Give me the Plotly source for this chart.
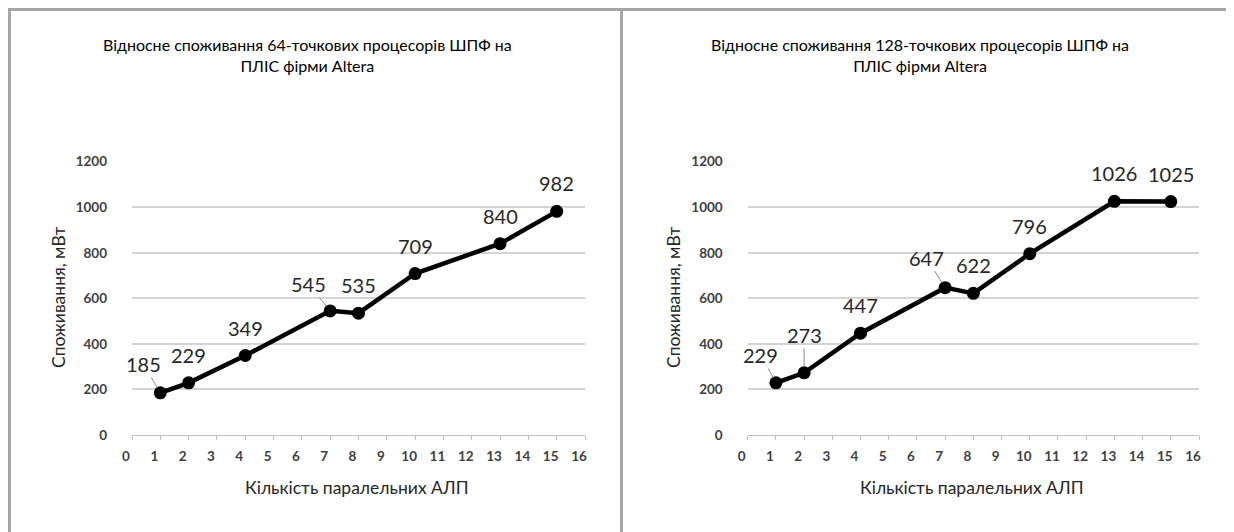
import plotly.graph_objects as go

W, H = 1234, 532
OFF = 8  # page body margin offset in the photographed page

# ---- data ----
alu_counts = [1, 2, 4, 7, 8, 10, 13, 15]
power_64 = [185, 229, 349, 545, 535, 709, 840, 982]
power_128 = [229, 273, 447, 647, 622, 796, 1026, 1025]
x_ticks = list(range(0, 17))
y_ticks = [0, 200, 400, 600, 800, 1000, 1200]

title_64 = "Відносне споживання 64-точкових процесорів ШПФ на<br>ПЛІС фірми Altera"
title_128 = "Відносне споживання 128-точкових процесорів ШПФ на<br>ПЛІС фірми Altera"
x_title = "Кількість паралельних АЛП"
y_title = "Споживання, мВт"

# label offsets (pixels) for labels with leader lines
leader_64 = {185: (-17, -29), 545: (-22, -27)}
leader_128 = {229: (-15, -28), 273: (0, -38), 647: (-19, -30)}

FONT = "Lato"


def px_x(p):
    return (p - OFF) / W


def px_y(p):
    return 1 - (p - OFF) / H


fig = go.Figure()

for i, ys in enumerate([power_64, power_128]):
    xa = "x" if i == 0 else "x2"
    ya = "y" if i == 0 else "y2"
    fig.add_trace(go.Scatter(
        x=alu_counts, y=ys, mode="lines+markers",
        line=dict(color="black", width=4.5),
        marker=dict(color="black", size=13),
        xaxis=xa, yaxis=ya, showlegend=False, hoverinfo="x+y",
    ))

common_x = dict(
    range=[0, 16], tickvals=x_ticks, ticktext=[str(v) for v in x_ticks],
    showgrid=False, zeroline=False, showline=True, linecolor="#bfbfbf", linewidth=1,
    ticks="outside", ticklen=4, tickcolor="#bfbfbf", tickwidth=1,
    tickfont=dict(family=FONT, size=13.5, color="#404040", weight="bold"),
    ticklabelshift=-6, ticklabelstandoff=5,
    automargin=False, fixedrange=True,
)
common_y = dict(
    range=[0, 1200], tickvals=y_ticks,
    showgrid=True, gridcolor="#d4d4d4", gridwidth=1.5, zeroline=False, showline=False,
    ticks="", tickfont=dict(family=FONT, size=13.5, color="#404040", weight="bold"),
    ticklabelstandoff=24,
    automargin=False, fixedrange=True,
)

y_dom = [px_y(435), px_y(161.7)]
fig.update_layout(
    width=W, height=H, autosize=False,
    margin=dict(l=0, r=0, t=0, b=0, pad=0, autoexpand=False),
    paper_bgcolor="white", plot_bgcolor="white",
    xaxis=dict(domain=[px_x(132), px_x(585)], anchor="y", **common_x),
    yaxis=dict(domain=y_dom, anchor="x", **common_y),
    xaxis2=dict(domain=[px_x(747.7), px_x(1199)], anchor="y2", **common_x),
    yaxis2=dict(domain=y_dom, anchor="x2", **common_y),
)

annotations = []
for xa, ya, ys, leaders in [("x", "y", power_64, leader_64), ("x2", "y2", power_128, leader_128)]:
    for xv, yv in zip(alu_counts, ys):
        if yv in leaders:
            ax, ay = leaders[yv]
            annotations.append(dict(
                x=xv, y=yv, xref=xa, yref=ya, text=str(yv),
                showarrow=True, arrowhead=0, arrowwidth=1, arrowcolor="#8c8c8c",
                ax=ax, ay=ay, standoff=6, startstandoff=0,
                font=dict(family=FONT, size=20, color="#262626"),
            ))
        else:
            annotations.append(dict(
                x=xv, y=yv, xref=xa, yref=ya, text=str(yv), showarrow=False,
                yshift=28, font=dict(family=FONT, size=20, color="#262626"),
            ))

# chart titles
for cx, t in [(307, title_64), (920, title_128)]:
    annotations.append(dict(
        x=px_x(cx), y=px_y(55), xref="paper", yref="paper", text=t,
        showarrow=False, xanchor="center", yanchor="middle",
        font=dict(family=FONT, size=16, color="#000000"),
    ))

# axis titles
for cx, t in [(357, x_title), (972, x_title)]:
    annotations.append(dict(
        x=px_x(cx), y=px_y(487), xref="paper", yref="paper", text=t,
        showarrow=False, xanchor="center", yanchor="middle",
        font=dict(family=FONT, size=17.5, color="#262626"),
    ))
for cx, t in [(58, y_title), (673, y_title)]:
    annotations.append(dict(
        x=px_x(cx), y=px_y(298), xref="paper", yref="paper", text=t, textangle=-90,
        showarrow=False, xanchor="center", yanchor="middle",
        font=dict(family=FONT, size=17.5, color="#262626"),
    ))

fig.update_layout(annotations=annotations)

# panel borders (kept inside the paper)
shapes = []
for x0, x1 in [(9.5, 621.5), (621.5, 1232.5)]:
    shapes.append(dict(
        type="rect", xref="paper", yref="paper",
        x0=px_x(x0), x1=px_x(x1), y0=0, y1=px_y(9.5),
        line=dict(color="#a6a6a6", width=3), fillcolor="rgba(0,0,0,0)", layer="below",
    ))
fig.update_layout(shapes=shapes)

fig.write_html("out.html")
